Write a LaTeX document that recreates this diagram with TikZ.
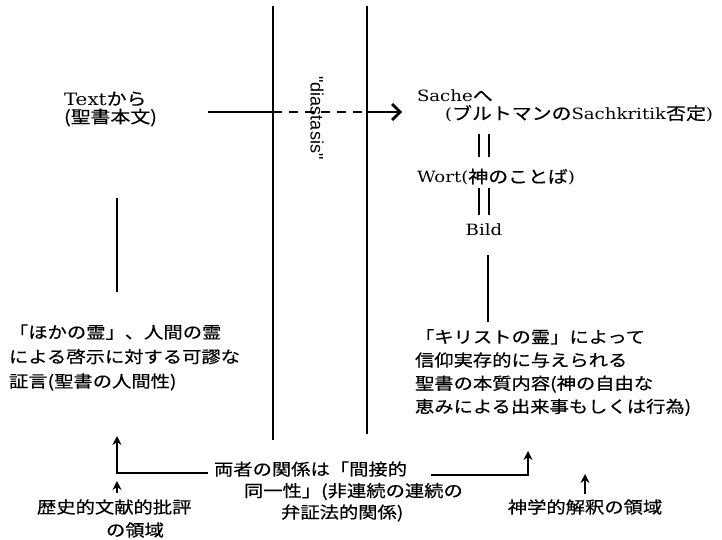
\documentclass[tikz,border=0pt]{standalone}
\usepackage{fontspec}
\usepackage{graphicx}
\setmainfont{DejaVu Serif}
\newfontfamily\jp[FakeBold=0.4]{Noto Sans CJK JP}
\newfontfamily\diafont{Liberation Sans}
\usetikzlibrary{arrows.meta}
\newcommand\jj[1]{{\jp\fontsize{17bp}{17bp}\selectfont #1}}
\newcommand\wide[1]{\scalebox{1.17}[1]{#1}}
\newcommand\wlines[1]{\scalebox{1.17}[1]{\vbox{#1}}}
\begin{document}
\begin{tikzpicture}[x=1bp,y=-1bp,
  jtext/.style={inner sep=0pt, outer sep=0pt, font=\jp\fontsize{16.5bp}{#1}\selectfont},
  lat/.style={inner sep=0pt, outer sep=0pt, font=\fontsize{15.5bp}{#1}\selectfont},
  sepline/.style={line width=1.6bp},
  ln/.style={line width=1.8bp},
  uparrow/.style={line width=1.8bp, -{Stealth[length=9bp,width=9bp]}},
]
\fill[white] (0,0) rectangle (722,540);
\useasboundingbox (0,0) rectangle (722,540);

% separators
\coordinate (s1t) at (273,6);  \coordinate (s1b) at (273,440);
\coordinate (s2t) at (367,6);  \coordinate (s2b) at (367,434);
\draw[sepline] (s1t) -- (s1b);
\draw[sepline] (s2t) -- (s2b);

% top left text
\node[lat=18bp, font=\fontsize{17bp}{18bp}\selectfont, anchor=west] (textn) at (64,109)
  {\wlines{\hbox{Text\jj{から}}\hbox{\jj{(聖書本文)}}}};

% top arrow
\coordinate (a0) at (208,112);
\coordinate (a1) at (s1t |- a0);
\coordinate (a2) at (s2t |- a0);
\coordinate (a3) at (402,112);
\draw[line width=2.8bp] (a0) -- (a1);
\draw[line width=2.4bp, dash pattern=on 9bp off 7bp] (a1) -- (a2);
\draw[line width=2.8bp, -{Straight Barb[length=8bp,width=16bp]}] (a2) -- (a3);

% diastasis
\node[rotate=-90, inner sep=0pt, font=\diafont\fontsize{18bp}{18bp}\selectfont] (dia) at (317,118) {"diastasis"};

% right top stack
\node[lat=18bp, anchor=west] (sache) at (417,106)
  {\wlines{\hbox{Sache\jj{へ}}\hbox{\hskip24bp(\jj{ブルトマンの}Sachkritik\jj{否定})}}};
\node[lat=18bp, anchor=west] (wort) at (417,177) {\wide{Wort(\jj{神のことば})}};
\node[lat=18bp] (bild) at (484,230) {\wide{Bild}};
\draw[ln] (479,134) -- (479,157);
\draw[ln] (489,134) -- (489,157);
\draw[ln] (479,188) -- (479,215);
\draw[ln] (489,188) -- (489,215);

% right paragraph
\draw[ln] (488,255) -- (488,322);
\node[jtext=23.2bp, anchor=west] (rpara) at (415,372.5)
  {\wlines{\hbox{「キリストの霊」によって}\hbox{信仰実存的に与えられる}\hbox{聖書の本質内容(神の自由な}\hbox{恵みによる出来事もしくは行為)}}};

% left paragraph
\draw[ln] (117,198) -- (117,292);
\node[jtext=24.5bp, anchor=west] (lpara) at (9,357.5)
  {\wlines{\hbox{「ほかの霊」、人間の霊}\hbox{による啓示に対する可謬な}\hbox{証言(聖書の人間性)}}};

% bottom middle
\node[jtext=21.5bp, anchor=west] (mid) at (214,491.5)
  {\wlines{\hbox{両者の関係は「間接的}\hbox{\hskip25.6bp 同一性」(非連続の連続の}\hbox{\hskip57.3bp 弁証法的関係)}}};

\coordinate (lc) at (208,473);
\coordinate (lt) at (117,436);
\draw[uparrow] (lc) -| (lt);
\coordinate (rc) at (431,475);
\coordinate (rt) at (528,451);
\draw[uparrow] (rc) -| (rt);

% bottom labels
\node[jtext=23bp, anchor=west] (hist) at (37,518.5)
  {\wlines{\hbox{歴史的文献的批評}\hbox{\hskip59bp の領域}}};
\coordinate (h0) at (117,493);
\coordinate (h1) at (117,481);
\draw[uparrow] (h0) -- (h1);

\node[jtext=19bp] (theo) at (585,507) {\wide{神学的解釈の領域}};
\coordinate (t0) at (585,494);
\coordinate (t1) at (585,474);
\draw[uparrow] (t0) -- (t1);
\end{tikzpicture}
\end{document}
